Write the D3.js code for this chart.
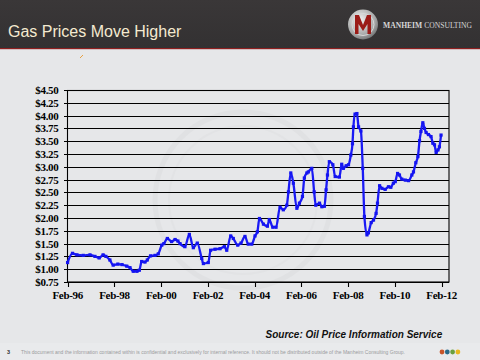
<!DOCTYPE html>
<html><head><meta charset="utf-8">
<script src="https://cdn.jsdelivr.net/npm/d3@7"></script>
<style>body{margin:0;background:#e6e7e9}svg{display:block}</style>
</head><body><svg id="c" width="480" height="360"></svg>
<script>
// Data (decimal year, $/gallon)
const years = [1996.08,1996.29,1996.48,1996.75,1997.04,1997.25,1997.43,1997.60,1997.72,1997.89,
1998.03,1998.23,1998.41,1998.61,1998.75,1998.89,1999.05,1999.15,1999.25,1999.39,1999.49,1999.63,1999.82,1999.96,
2000.11,2000.20,2000.35,2000.53,2000.68,2000.80,2000.89,2001.10,2001.29,2001.46,2001.63,2001.82,2001.89,
2002.10,2002.20,2002.39,2002.60,2002.79,2002.89,2003.06,2003.17,2003.36,2003.50,2003.67,2003.81,2003.96,
2004.10,2004.20,2004.29,2004.46,2004.63,2004.71,2004.86,2005.00,2005.17,2005.31,2005.46,2005.53,2005.63,2005.74,2005.89,
2006.00,2006.13,2006.21,2006.32,2006.38,2006.53,2006.63,2006.70,2006.86,2006.96,2007.07,2007.14,2007.20,2007.28,2007.43,2007.53,2007.71,2007.81,2007.88,
2008.00,2008.10,2008.20,2008.27,2008.31,2008.38,2008.46,2008.53,2008.63,2008.71,2008.78,2008.89,2008.95,
2009.07,2009.17,2009.28,2009.34,2009.43,2009.53,2009.67,2009.81,2009.91,2010.02,2010.10,2010.20,2010.28,2010.38,2010.53,2010.67,2010.81,2010.88,2010.98,
2011.07,2011.14,2011.20,2011.28,2011.35,2011.42,2011.52,2011.63,2011.71,2011.78,2011.85,2011.93,2011.99,2012.06];
const prices = [1.13,1.31,1.28,1.27,1.28,1.25,1.22,1.28,1.25,1.18,
1.08,1.10,1.09,1.06,1.03,0.96,0.96,0.98,1.15,1.14,1.18,1.26,1.27,1.30,
1.47,1.50,1.60,1.54,1.58,1.55,1.50,1.44,1.68,1.42,1.51,1.21,1.11,
1.13,1.37,1.39,1.40,1.44,1.37,1.65,1.60,1.47,1.51,1.64,1.49,1.49,
1.65,1.73,1.99,1.88,1.84,1.97,1.82,1.82,2.21,2.16,2.25,2.51,2.88,2.68,2.19,
2.29,2.42,2.78,2.88,2.90,2.97,2.51,2.25,2.29,2.22,2.23,2.55,2.84,3.10,3.04,2.81,2.80,3.05,2.97,
3.02,3.04,3.23,3.45,3.78,4.03,4.04,3.78,3.70,2.97,2.03,1.67,1.71,
1.91,1.96,2.09,2.29,2.63,2.58,2.56,2.61,2.60,2.68,2.71,2.87,2.84,2.76,2.74,2.73,2.84,2.90,3.08,
3.20,3.51,3.69,3.86,3.75,3.67,3.63,3.59,3.46,3.43,3.28,3.33,3.39,3.62];
const yTicks = [0.75,1.00,1.25,1.50,1.75,2.00,2.25,2.50,2.75,3.00,3.25,3.50,3.75,4.00,4.25,4.50];
const xTickYears = [1996.085,1998.085,2000.085,2002.085,2004.085,2006.085,2008.085,2010.085,2012.085];
const xTickLabels = ["Feb-96","Feb-98","Feb-00","Feb-02","Feb-04","Feb-06","Feb-08","Feb-10","Feb-12"];
const title = "Gas Prices Move Higher";
const source = "Source: Oil Price Information Service";
const footer = "This document and the information contained within is confidential and exclusively for internal reference.  It should not be distributed outside of the Manheim Consulting Group.";

const svg = d3.select("#c");
svg.append("rect").attr("width",480).attr("height",360).attr("fill","#e6e7e9");
// header
const defs = svg.append("defs");
const hg = defs.append("linearGradient").attr("id","hg").attr("x1",0).attr("x2",0).attr("y1",0).attr("y2",1);
hg.append("stop").attr("offset","0").attr("stop-color","#3a3738");
hg.append("stop").attr("offset","1").attr("stop-color","#333132");
svg.append("rect").attr("width",480).attr("height",48).attr("fill","url(#hg)");
svg.append("rect").attr("y",48).attr("width",480).attr("height",1.2).attr("fill","#8e1f1f");
svg.append("text").attr("x",8).attr("y",37).attr("font-family","Liberation Sans, Arial, sans-serif")
  .attr("font-size",16).attr("fill","#f4ead0").text(title);
// logo
const lg = defs.append("radialGradient").attr("id","lg").attr("cx","0.4").attr("cy","0.35").attr("r","0.7");
lg.append("stop").attr("offset","0").attr("stop-color","#f2f2f2");
lg.append("stop").attr("offset","0.7").attr("stop-color","#a9aaaa");
lg.append("stop").attr("offset","1").attr("stop-color","#6e6f70");
svg.append("circle").attr("cx",363).attr("cy",24.5).attr("r",15).attr("fill","url(#lg)");
svg.append("circle").attr("cx",363).attr("cy",24.5).attr("r",11).attr("fill","none").attr("stroke","#d8d8d8").attr("stroke-width",1);
svg.append("path").attr("d","M355,34 L355,15 L359,15 L363,25 L367,15 L371,15 L371,34 L367.5,34 L367.5,24 L363,31 L358.5,24 L358.5,34 Z")
  .attr("fill","#9b1b17");
const lt = svg.append("text").attr("x",383).attr("y",27.5).attr("font-family","Liberation Serif, Times New Roman, serif")
  .attr("font-size",7.6).attr("fill","#d6d6d6");
lt.append("tspan").attr("font-weight","bold").text("MANHEIM ");
lt.append("tspan").text("CONSULTING");
svg.append("path").attr("d","M80,58 L83,55").attr("stroke","#e8a040").attr("stroke-width",1);

// faint watermark
svg.append("circle").attr("cx",243).attr("cy",200).attr("r",88).attr("fill","none").attr("stroke","#e0e1e3").attr("stroke-width",5);
svg.append("circle").attr("cx",243).attr("cy",200).attr("r",74).attr("fill","none").attr("stroke","#e2e3e5").attr("stroke-width",2);

// scales
const x = d3.scaleLinear().domain([1996.085, 2012.40]).range([67.7, 449]);
const y = d3.scaleLinear().domain([0.75, 4.5]).range([282, 90]);

svg.append("g").selectAll("line").data(yTicks).join("line")
  .attr("x1",64).attr("x2",449).attr("y1",d=>Math.round(y(d))+0.5).attr("y2",d=>Math.round(y(d))+0.5)
  .attr("stroke","#000").attr("stroke-width",1.1);
svg.append("rect").attr("x",67.5).attr("y",90.5).attr("width",381.5).attr("height",191.5)
  .attr("fill","none").attr("stroke","#000").attr("stroke-width",1.1);
svg.append("g").selectAll("line").data(xTickYears).join("line")
  .attr("x1",d=>Math.round(x(d))+0.5).attr("x2",d=>Math.round(x(d))+0.5).attr("y1",282).attr("y2",287)
  .attr("stroke","#000").attr("stroke-width",1.1);
svg.append("g").selectAll("text").data(yTicks).join("text")
  .attr("x",58.5).attr("y",d=>y(d)+4).attr("text-anchor","end")
  .attr("font-family","Liberation Serif, Times New Roman, serif").attr("font-weight","bold").attr("font-size",11)
  .attr("letter-spacing",-0.3).attr("fill","#000")
  .text(d=>"$"+d.toFixed(2));
svg.append("g").selectAll("text").data(xTickYears).join("text")
  .attr("x",d=>x(d)).attr("y",298.5).attr("text-anchor","middle")
  .attr("font-family","Liberation Serif, Times New Roman, serif").attr("font-weight","bold").attr("font-size",11)
  .attr("letter-spacing",-0.3).attr("fill","#000")
  .text((d,i)=>xTickLabels[i]);

const data = years.map((yr,i)=>({yr, v:prices[i]}));
const line = d3.line().x(d=>x(d.yr)).y(d=>y(d.v)).curve(d3.curveMonotoneX);
svg.append("path").datum(data).attr("d",line).attr("fill","none").attr("stroke","#1a1af5")
  .attr("stroke-width",2.3).attr("stroke-linejoin","round");
svg.append("g").selectAll("rect").data(data).join("rect")
  .attr("x",d=>x(d.yr)-1.6).attr("y",d=>y(d.v)-1.6).attr("width",3.2).attr("height",3.2).attr("fill","#1414f0");

svg.append("text").attr("x",265.5).attr("y",338).attr("font-family","Liberation Sans, Arial, sans-serif")
  .attr("font-weight","bold").attr("font-style","italic").attr("font-size",10).attr("fill","#111").text(source);
svg.append("rect").attr("y",343).attr("width",480).attr("height",17).attr("fill","#e9eaec");
svg.append("text").attr("x",7).attr("y",354).attr("font-family","Liberation Sans, Arial, sans-serif")
  .attr("font-size",5.5).attr("font-weight","bold").attr("fill","#333").text("3");
svg.append("text").attr("x",21).attr("y",354).attr("font-family","Liberation Sans, Arial, sans-serif")
  .attr("font-size",5.4).attr("fill","#9a9b9d").attr("textLength",384).attr("lengthAdjust","spacingAndGlyphs").text(footer);
const dots = ["#c8552a","#2a6a8a","#6aa040","#e8b820"];
svg.append("g").selectAll("circle").data(dots).join("circle")
  .attr("cx",(d,i)=>442+i*5.3).attr("cy",352).attr("r",2.4).attr("fill",d=>d);
</script></body></html>
